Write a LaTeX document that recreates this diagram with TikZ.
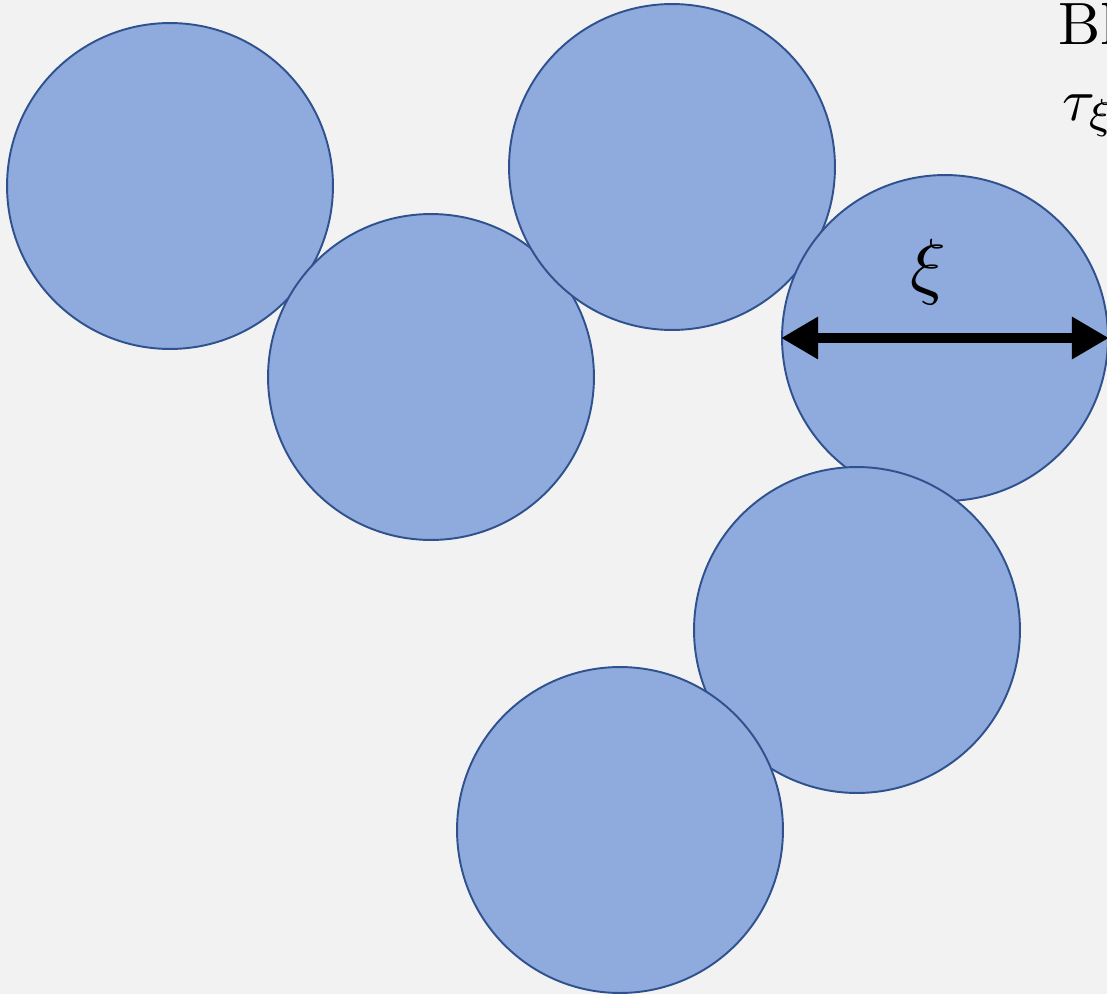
\documentclass[tikz,border=0pt]{standalone}
\usetikzlibrary{arrows.meta}
\definecolor{bg}{HTML}{F2F2F2}
\definecolor{blobfill}{HTML}{8FAADC}
\definecolor{blobline}{HTML}{2F528F}
\newcommand{\bigtxt}[1]{\scalebox{3.4}{#1}}
\begin{document}
\begin{tikzpicture}[x=0.02cm,y=-0.02cm,
  blob/.style={circle,fill=blobfill,draw=blobline,line width=1.1pt,minimum size=6.52cm,inner sep=0pt},
  lbl/.style={inner sep=0pt}]
\useasboundingbox (0,0) rectangle (1107,994);
\clip (0,0) rectangle (1107,994);
\fill[bg] (0,0) rectangle (1107,994);
\node[blob] (c1) at (170,186) {};
\node[blob] (c2) at (431,377) {};
\node[blob] (c3) at (672,167) {};
\node[blob] (c4) at (945,338) {};
\node[blob] (c5) at (857,630) {};
\node[blob] (c6) at (620,830) {};
\draw[line width=5.5pt,{Triangle[length=0.74cm,width=0.8cm]}-{Triangle[length=0.74cm,width=0.8cm]}] (c4.west) -- (c4.east);
\node[lbl,anchor=base] (xi) at (928,290) {\scalebox{4.2}{$\xi$}};
\node[lbl,anchor=base west] (t1) at (1058,44) {\bigtxt{Bl}};
\node[lbl,anchor=base west] (t2) at (1062,120) {\bigtxt{$\tau_\xi$}};
\end{tikzpicture}
\end{document}
